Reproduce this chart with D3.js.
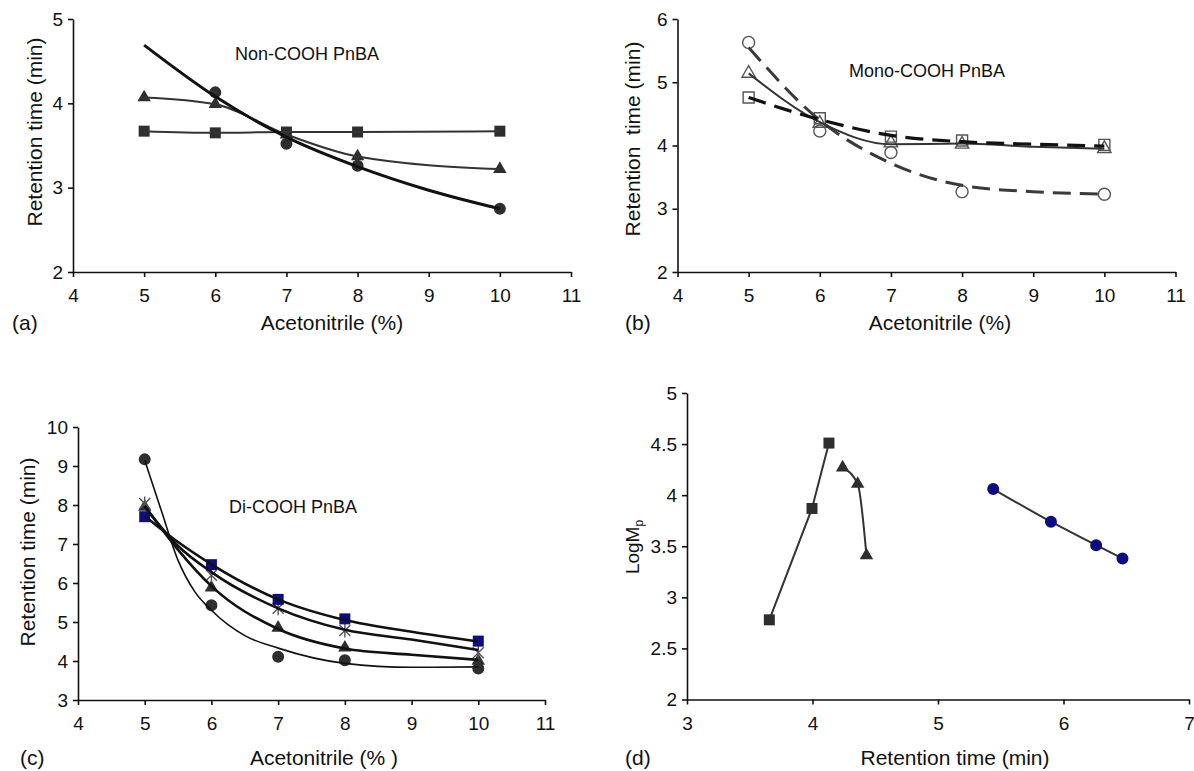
<!doctype html>
<html lang="en">
<head>
	<meta charset="UTF-8">
	<title>PnBA retention time</title>

	<!-- D3 -->
	<script src="https://d3js.org/d3.v7.min.js"></script>

	<style>
		body {
			margin: 0;
			background: #fff;
		}
		svg {
			display: block;
			font-family: "Liberation Sans", Arial, Helvetica, sans-serif;
		}
		.axis {
			font-family: "Liberation Sans", Arial, Helvetica, sans-serif;
			font-size: 19px;
		}
		.axis path,
		.axis line {
			stroke: #111;
			stroke-width: 1.6;
		}
		.axis text {
			fill: #111;
		}
		.title {
			font-size: 21px;
			fill: #111;
			white-space: pre;
		}
		.note {
			font-size: 18px;
			fill: #111;
		}
	</style>
</head>
<body>
	<div id="chart"></div>

	<script>
		//////////////////////////////////////
		/////////////// Data /////////////////
		//////////////////////////////////////

		// (a) Non-COOH PnBA
		const aX = [5, 6, 7, 8, 10];
		const aSquare = [3.67, 3.65, 3.66, 3.66, 3.67];
		const aTriangle = [4.07, 3.99, 3.63, 3.37, 3.22];
		const aCircleX = [6, 7, 8, 10];
		const aCircle = [4.13, 3.52, 3.26, 2.75];
		const aCircleFitX = [5, 6, 7, 8, 9, 10];
		const aCircleFit = [4.69, 4.08, 3.60, 3.25, 2.97, 2.75];

		// (b) Mono-COOH PnBA
		const bX = [5, 6, 7, 8, 10];
		const bCircle = [5.63, 4.23, 3.89, 3.27, 3.23];
		const bTriangle = [5.14, 4.35, 4.04, 4.02, 3.95];
		const bSquare = [4.76, 4.43, 4.14, 4.08, 4.01];
		const bFitX = [5, 6, 7, 8, 9, 10];
		const bCircleFit = [5.55, 4.40, 3.72, 3.37, 3.27, 3.23];
		const bSquareFit = [4.76, 4.41, 4.16, 4.06, 4.02, 3.99];
		const bTriangleFit = [5.14, 4.37, 4.02, 4.03, 3.98, 3.95];

		// (c) Di-COOH PnBA
		const cX = [5, 6, 7, 8, 10];
		const cCircle = [9.17, 5.43, 4.11, 4.02, 3.81];
		const cTriangle = [7.95, 5.88, 4.85, 4.34, 4.00];
		const cStar = [8.04, 6.20, 5.35, 4.78, 4.21];
		const cSquare = [7.70, 6.47, 5.58, 5.08, 4.51];
		const cFitX = [5, 5.5, 6, 7, 8, 9, 10];
		const cSquareFit = [7.72, 7.05, 6.48, 5.58, 5.05, 4.75, 4.50];
		const cStarFit = [7.95, 6.95, 6.28, 5.35, 4.80, 4.55, 4.28];
		const cTriangleFit = [7.98, 6.85, 5.92, 4.82, 4.32, 4.16, 4.03];
		const cCircleFitX = [5, 5.25, 5.5, 5.75, 6, 6.5, 7, 8, 9, 10];
		const cCircleFit = [9.15, 7.85, 6.58, 5.78, 5.30, 4.65, 4.33, 3.94, 3.84, 3.85];

		// (d) LogMp vs retention time
		const dSquareX = [3.656, 3.996, 4.131];
		const dSquareY = [2.78, 3.87, 4.51];
		const dTriangleX = [4.24, 4.36, 4.43];
		const dTriangleY = [4.27, 4.11, 3.41];
		const dCircleX = [5.44, 5.90, 6.26, 6.47];
		const dCircleY = [4.06, 3.74, 3.51, 3.38];

		// Tick values
		const acnTicks = [4, 5, 6, 7, 8, 9, 10, 11];
		const aTicksY = [2, 3, 4, 5];
		const bTicksY = [2, 3, 4, 5, 6];
		const cTicksY = [3, 4, 5, 6, 7, 8, 9, 10];
		const dTicksX = [3, 4, 5, 6, 7];
		const dTicksY = [2, 2.5, 3, 3.5, 4, 4.5, 5];

		//////////////////////////////////////
		////////////// Canvas ////////////////
		//////////////////////////////////////

		const width = 1194;
		const height = 771;

		const svg = d3.select('#chart')
			.append('svg')
			.attr('width', width)
			.attr('height', height);

		svg.append('rect')
			.attr('width', width)
			.attr('height', height)
			.attr('fill', '#fff');

		// Marker shapes
		const starPath = 'M-5.5,-5.5L5.5,5.5M-5.5,5.5L5.5,-5.5M0,-7L0,7';
		const shapes = {
			square: d3.symbol().type(d3.symbolSquare).size(121)(),
			circle: d3.symbol().type(d3.symbolCircle).size(113)(),
			triangle: d3.symbol().type(d3.symbolTriangle).size(78)(),
			star: starPath
		};

		// Axes + scales for one panel
		function panel(p) {
			const x = d3.scaleLinear().domain(p.xDomain).range(p.xRange);
			const y = d3.scaleLinear().domain(p.yDomain).range(p.yRange);
			const g = svg.append('g');

			g.append('g')
				.attr('class', 'axis')
				.attr('transform', 'translate(0,' + p.yRange[0] + ')')
				.call(d3.axisBottom(x)
					.tickValues(p.xTicks)
					.tickSize(5)
					.tickSizeOuter(0)
					.tickPadding(12)
					.tickFormat((d) => d));

			g.append('g')
				.attr('class', 'axis')
				.attr('transform', 'translate(' + p.xRange[0] + ',0)')
				.call(d3.axisLeft(y)
					.tickValues(p.yTicks)
					.tickSize(5)
					.tickSizeOuter(0)
					.tickPadding(5)
					.tickFormat((d) => d));

			g.selectAll('.domain').attr('stroke', '#111');

			return { x: x, y: y, g: g };
		}

		function drawLine(p, xs, ys, style, curve) {
			const line = d3.line()
				.x((d) => p.x(d[0]))
				.y((d) => p.y(d[1]))
				.curve(curve || d3.curveMonotoneX);

			p.g.append('path')
				.datum(d3.zip(xs, ys))
				.attr('d', line)
				.attr('fill', 'none')
				.attr('stroke', style.stroke)
				.attr('stroke-width', style.width)
				.attr('stroke-dasharray', style.dash || null)
				.attr('stroke-linecap', 'butt');
		}

		function drawMarks(p, xs, ys, shape, style) {
			p.g.selectAll(null)
				.data(d3.zip(xs, ys))
				.enter()
				.append('path')
				.attr('d', shapes[shape])
				.attr('transform', (d) => 'translate(' + p.x(d[0]) + ',' + p.y(d[1]) + ')')
				.attr('fill', style.fill)
				.attr('stroke', style.stroke || 'none')
				.attr('stroke-width', style.width || 0);
		}

		function addText(x, y, txt, cls, anchor, rotate) {
			const t = svg.append('text')
				.attr('class', cls)
				.attr('text-anchor', anchor || 'middle')
				.attr('dy', '0.35em')
				.text(txt);
			if (rotate) {
				t.attr('transform', 'translate(' + x + ',' + y + ') rotate(-90)');
			} else {
				t.attr('x', x).attr('y', y);
			}
			return t;
		}

		const dark = { fill: '#2e2e2e' };
		const navy = { fill: '#0c0c84' };
		const open = { fill: 'none', stroke: '#555', width: 1.4 };

		//////////////////////////////////////
		//////////// Panel (a) ///////////////
		//////////////////////////////////////

		const pa = panel({
			xDomain: [4, 11], xRange: [73, 571], xTicks: acnTicks,
			yDomain: [2, 5], yRange: [272, 19], yTicks: aTicksY
		});

		drawMarks(pa, aX, aSquare, 'square', dark);
		drawMarks(pa, aX, aTriangle, 'triangle', dark);
		drawMarks(pa, aCircleX, aCircle, 'circle', dark);
		drawLine(pa, aX, aSquare, { stroke: '#333', width: 2 });
		drawLine(pa, aX, aTriangle, { stroke: '#333', width: 2 });
		drawLine(pa, aCircleFitX, aCircleFit, { stroke: '#111', width: 3 });

		addText(307, 54, 'Non-COOH PnBA', 'note');
		addText(332, 323, 'Acetonitrile (%)', 'title');
		addText(12, 323, '(a)', 'title', 'start');
		addText(35, 132, 'Retention time (min)', 'title', 'middle', true);

		//////////////////////////////////////
		//////////// Panel (b) ///////////////
		//////////////////////////////////////

		const pb = panel({
			xDomain: [4, 11], xRange: [677.5, 1175.5], xTicks: acnTicks,
			yDomain: [2, 6], yRange: [272, 19], yTicks: bTicksY
		});

		drawMarks(pb, bX, bCircle, 'circle', open);
		drawMarks(pb, bX, bTriangle, 'triangle', open);
		drawMarks(pb, bX, bSquare, 'square', open);
		drawLine(pb, bFitX, bCircleFit, { stroke: '#3a3a3a', width: 3, dash: '18,9' });
		drawLine(pb, bFitX, bTriangleFit, { stroke: '#333', width: 2 });
		drawLine(pb, bFitX, bSquareFit, { stroke: '#111', width: 3.2, dash: '18,9' });

		addText(927, 71, 'Mono-COOH PnBA', 'note');
		addText(940, 323, 'Acetonitrile (%)', 'title');
		addText(625, 323, '(b)', 'title', 'start');
		addText(633, 139, 'Retention  time (min)', 'title', 'middle', true);

		//////////////////////////////////////
		//////////// Panel (c) ///////////////
		//////////////////////////////////////

		const pc = panel({
			xDomain: [4, 11], xRange: [78, 545], xTicks: acnTicks,
			yDomain: [3, 10], yRange: [700, 427], yTicks: cTicksY
		});

		drawMarks(pc, cX, cCircle, 'circle', dark);
		drawMarks(pc, cX, cTriangle, 'triangle', dark);
		drawMarks(pc, cX, cStar, 'star', { fill: 'none', stroke: '#555', width: 1.4 });
		drawMarks(pc, cX, cSquare, 'square', navy);
		drawLine(pc, cCircleFitX, cCircleFit, { stroke: '#111', width: 1.6 });
		drawLine(pc, cFitX, cTriangleFit, { stroke: '#111', width: 2.6 });
		drawLine(pc, cFitX, cStarFit, { stroke: '#111', width: 2.6 });
		drawLine(pc, cFitX, cSquareFit, { stroke: '#111', width: 2.6 });

		addText(293, 507, 'Di-COOH PnBA', 'note');
		addText(324, 758, 'Acetonitrile (% )', 'title');
		addText(20, 758, '(c)', 'title', 'start');
		addText(28, 552, 'Retention time (min)', 'title', 'middle', true);

		//////////////////////////////////////
		//////////// Panel (d) ///////////////
		//////////////////////////////////////

		const pd = panel({
			xDomain: [3, 7], xRange: [687, 1189], xTicks: dTicksX,
			yDomain: [2, 5], yRange: [699.5, 393], yTicks: dTicksY
		});

		drawLine(pd, dSquareX, dSquareY, { stroke: '#333', width: 2 }, d3.curveLinear);
		drawLine(pd, dTriangleX, dTriangleY, { stroke: '#333', width: 2 });
		drawLine(pd, dCircleX, dCircleY, { stroke: '#333', width: 2 });
		drawMarks(pd, dSquareX, dSquareY, 'square', dark);
		drawMarks(pd, dTriangleX, dTriangleY, 'triangle', dark);
		drawMarks(pd, dCircleX, dCircleY, 'circle', navy);

		addText(955, 758, 'Retention time (min)', 'title');
		addText(625, 758, '(d)', 'title', 'start');

		// LogMp with subscript p
		const logm = svg.append('text')
			.attr('class', 'title')
			.attr('text-anchor', 'middle')
			.attr('dy', '0.35em')
			.style('font-size', '19px')
			.attr('transform', 'translate(632,547) rotate(-90)');
		logm.append('tspan').text('LogM');
		logm.append('tspan')
			.attr('dy', '4')
			.style('font-size', '12px')
			.text('p');
	</script>
</body>
</html>
